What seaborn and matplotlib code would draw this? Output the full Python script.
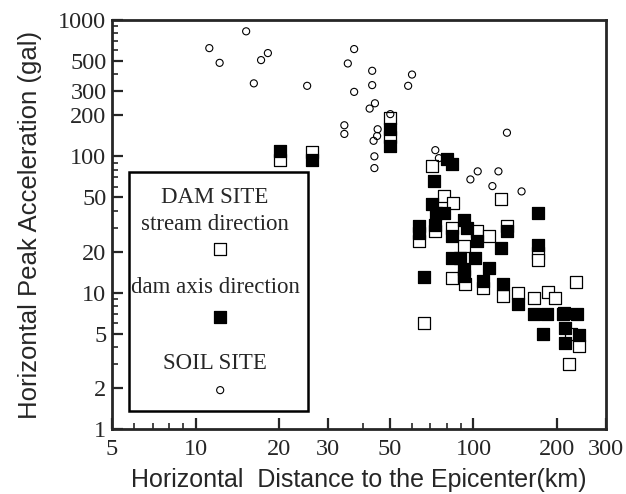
import matplotlib
matplotlib.use("Agg")
import matplotlib.pyplot as plt
import matplotlib.ticker as mticker
from matplotlib.patches import Rectangle
import seaborn as sns
import pandas as pd

# ---- data ----
soil_x = [11.2, 12.2, 15.2, 16.2, 17.2, 18.2, 25.2, 34.3, 34.3, 35.3, 37.2, 37.2,
          43.2, 43.2, 42.3, 44.2, 45.2, 45.0, 43.7, 44.0, 44.0, 50.2, 58.2, 60.1,
          72.9, 75.1, 97.5, 103.6, 117, 123, 132, 149]
soil_y = [622, 485, 826, 343, 508, 572, 329, 169, 146, 480, 612, 297,
          424, 333, 224, 245, 158, 141, 130, 100, 82, 204, 329, 398,
          111, 97, 67.7, 77.6, 60.5, 77.6, 149, 55.3]

stream_x = [20.2, 26.2, 50.2, 50.2, 71.1, 78.3, 84.6, 73.0, 63.7, 66.4, 83.9, 103,
            92.3, 83.9, 93.3, 113.5, 108, 132, 126, 128, 145, 171, 171, 164.5,
            186, 196.7, 240.5, 220, 234, 212, 224.5]
stream_y = [93.5, 108, 190, 138, 84.9, 51, 45.1, 28.2, 23.8, 6.0, 29.9, 28.2,
            21.9, 12.8, 11.5, 25.9, 10.8, 30.7, 48.9, 9.4, 9.95, 19.6, 17.5, 9.1,
            10.05, 9.1, 4.03, 3.0, 12.0, 7.1, 5.0]

axis_x = [20.2, 26.2, 50.2, 50.2, 80, 84, 72.1, 71, 73.6, 78.3, 73, 63.7,
          63.7, 66.4, 83.9, 92.3, 94.9, 103, 83.9, 89.4, 101, 92.3, 92.3, 113.5,
          108, 125.6, 132, 128, 145, 171, 171, 164.5, 183.8, 210.8, 235.5, 178.7,
          213.7, 213.7, 240.5]
axis_y = [109, 94, 160, 120, 95, 88, 65.8, 44.4, 38.6, 38.6, 31.6, 30.7,
          27.2, 13, 25.9, 34.4, 29.9, 23.8, 18, 18, 18, 14.8, 13.2, 15.2,
          12.1, 21.3, 28.2, 11.6, 8.2, 38.1, 22.5, 7.0, 7.0, 7.0, 7.0, 5.0,
          5.5, 4.27, 4.9]

x_ticks = [5, 10, 20, 30, 50, 100, 200, 300]
y_ticks = [1, 2, 5, 10, 20, 50, 100, 200, 300, 500, 1000]

soil = pd.DataFrame({"x": soil_x, "y": soil_y})
stream = pd.DataFrame({"x": stream_x, "y": stream_y})
daxis = pd.DataFrame({"x": axis_x, "y": axis_y})

sns.set_style("ticks")
plt.rcParams["font.family"] = ["Liberation Serif", "DejaVu Serif"]

fig = plt.figure(figsize=(6.26, 4.94), dpi=100)
ax = fig.add_axes([112/626, 1 - 429/494, 494/626, 409/494])

sns.scatterplot(data=stream, x="x", y="y", ax=ax, marker="s", s=84,
                facecolor="white", edgecolor="black", linewidth=0.9, zorder=3)
sns.scatterplot(data=daxis, x="x", y="y", ax=ax, marker="s", s=84,
                color="black", edgecolor="black", linewidth=0.9, zorder=4)
sns.scatterplot(data=soil, x="x", y="y", ax=ax, marker="o", s=26,
                facecolor="none", edgecolor="black", linewidth=0.8, zorder=5)

ax.set_xscale("log")
ax.set_yscale("log")
ax.set_xlim(5, 300)
ax.set_ylim(1, 1000)

ax.xaxis.set_major_locator(mticker.FixedLocator(x_ticks))
ax.xaxis.set_major_formatter(mticker.FixedFormatter([str(v) for v in x_ticks]))
ax.xaxis.set_minor_locator(mticker.LogLocator(base=10, subs=range(1, 10)))
ax.xaxis.set_minor_formatter(mticker.NullFormatter())
ax.yaxis.set_major_locator(mticker.FixedLocator(y_ticks))
ax.yaxis.set_major_formatter(mticker.FixedFormatter([str(v) for v in y_ticks]))
ax.yaxis.set_minor_locator(mticker.LogLocator(base=10, subs=range(1, 10)))
ax.yaxis.set_minor_formatter(mticker.NullFormatter())

ax.tick_params(which="major", direction="in", length=8, width=1.6,
               labelsize=17.5, pad=4, top=False, right=False)
ax.tick_params(which="minor", direction="in", length=4, width=1.2,
               top=False, right=False)
ax.tick_params(axis="x", which="major", pad=7)

for sp in ax.spines.values():
    sp.set_linewidth(2.0)
    sp.set_visible(True)

ax.set_xlabel("Horizontal  Distance to the Epicenter(km)", fontsize=18,
              family=["Liberation Sans", "DejaVu Sans"], labelpad=6)
ax.set_ylabel("Horizontal Peak Acceleration (gal)", fontsize=18.5,
              family=["Liberation Sans", "DejaVu Sans"], labelpad=12)

# legend box
ax.add_patch(Rectangle((0.034, 0.044), 0.363, 0.584, transform=ax.transAxes,
                       facecolor="white", edgecolor="black", linewidth=1.8,
                       zorder=6))
tx = 0.2085
mx = 0.219
for txt, ty in [("DAM SITE", 0.565), ("stream direction", 0.499),
                ("dam axis direction", 0.347), ("SOIL SITE", 0.161)]:
    ax.text(tx, ty, txt, transform=ax.transAxes, ha="center", va="center",
            fontsize=16.5, zorder=7)
ax.scatter([mx], [0.440], transform=ax.transAxes, marker="s", s=84,
           facecolor="white", edgecolor="black", linewidth=0.9, zorder=7)
ax.scatter([mx], [0.274], transform=ax.transAxes, marker="s", s=84,
           facecolor="black", edgecolor="black", linewidth=0.9, zorder=7)
ax.scatter([mx], [0.095], transform=ax.transAxes, marker="o", s=26,
           facecolor="none", edgecolor="black", linewidth=0.8, zorder=7)

fig.savefig("out.png", dpi=100)
